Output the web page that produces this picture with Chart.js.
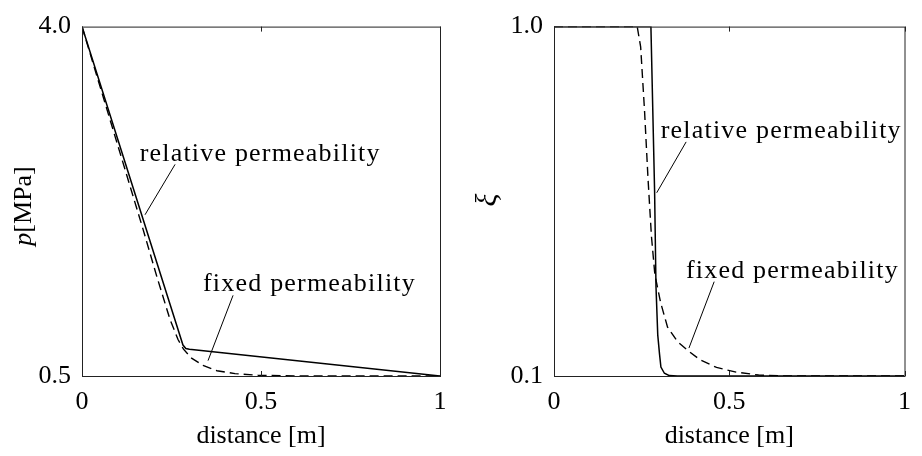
<!DOCTYPE html>
<html><head><meta charset="utf-8">
<script src="https://cdn.jsdelivr.net/npm/chart.js@4.4.0/dist/chart.umd.min.js"></script>
<style>
html,body{margin:0;padding:0;background:#fff;}
#wrap{position:relative;width:922px;height:456px;overflow:hidden;}
canvas{position:absolute;top:0;}
#c1{left:0;} #c2{left:461px;}
</style></head><body>
<div id="wrap"><canvas id="c1" width="461" height="456"></canvas><canvas id="c2" width="461" height="456"></canvas></div>
<script>
// ---- data ----
const xTickValues = [0, 0.5, 1];
const pTickValues = [0.5, 4.0];
const xiTickValues = [0.1, 1.0];

// left panel: pressure p [MPa] vs distance [m]
const pRelDist = [0, 0.282, 0.29, 0.30, 1.0];
const pRelVal  = [4.0, 0.81, 0.775, 0.768, 0.5];
const pFixDist = [0, 0.1704, 0.2095, 0.2458, 0.2682, 0.2835, 0.3045, 0.338, 0.3771, 0.4274, 0.4916, 0.609, 1.0];
const pFixVal  = [4.0, 1.971, 1.490, 1.067, 0.865, 0.769, 0.683, 0.606, 0.553, 0.524, 0.508, 0.5, 0.5];

// right panel: xi vs distance [m]
const xiRelDist = [0, 0.2765, 0.287, 0.291, 0.296, 0.301, 0.305, 0.315, 0.329, 0.352, 1.0];
const xiRelVal  = [1.0, 1.0, 0.577, 0.330, 0.206, 0.157, 0.123, 0.107, 0.101, 0.1, 0.1];
const xiFixDist = [0, 0.2374, 0.2472, 0.2584, 0.2682, 0.2779, 0.2877, 0.3045, 0.324, 0.352, 0.3799, 0.4162, 0.4637, 0.5196, 0.5838, 0.659, 1.0];
const xiFixVal  = [1.0, 1.0, 0.948, 0.782, 0.609, 0.461, 0.362, 0.288, 0.226, 0.189, 0.167, 0.142, 0.122, 0.110, 0.1025, 0.1, 0.1];

const seriesNames = ['relative permeability', 'fixed permeability'];
const xTitle = 'distance [m]';

// ---- layout / style ----
const FONT = '"Liberation Serif", "Times New Roman", serif';
const FS = 26;
const toPts = (xs, ys) => xs.map((x, i) => ({x: x, y: ys[i]}));

const framePlugin = {
  id: 'frame',
  afterDatasetsDraw(chart) {
    const {ctx, chartArea: a, scales} = chart;
    ctx.save();
    ctx.strokeStyle = '#222';
    ctx.lineWidth = 1;
    ctx.strokeRect(a.left + 0.5, a.top + 0.5, a.right - a.left, a.bottom - a.top);
    xTickValues.forEach(v => {
      const px = Math.round(scales.x.getPixelForValue(v)) + 0.5;
      ctx.beginPath();
      ctx.moveTo(px, a.bottom); ctx.lineTo(px, a.bottom - 5);
      ctx.moveTo(px, a.top); ctx.lineTo(px, a.top + 5);
      ctx.stroke();
    });
    ctx.restore();
  }
};

const notesPlugin = {
  id: 'notes',
  afterDatasetsDraw(chart, args, opts) {
    const {ctx, scales} = chart;
    const X = v => scales.x.getPixelForValue(v), Y = v => scales.y.getPixelForValue(v);
    ctx.save();
    ctx.fillStyle = '#000';
    ctx.strokeStyle = '#000';
    ctx.lineWidth = 1;
    ctx.font = FS + 'px ' + FONT;
    ctx.textBaseline = 'alphabetic';
    ctx.textAlign = 'left';
    try { ctx.letterSpacing = '1.2px'; } catch (e) {}
    (opts.items || []).forEach(n => {
      ctx.fillText(n.text, X(n.tx), Y(n.ty));
      ctx.beginPath();
      ctx.moveTo(X(n.l[0]), Y(n.l[1]));
      ctx.lineTo(X(n.l[2]), Y(n.l[3]));
      ctx.stroke();
    });
    try { ctx.letterSpacing = '0px'; } catch (e) {}
    // y title (rotated)
    const t = opts.ytitle;
    if (t) {
      ctx.translate(t.x, t.y);
      ctx.rotate(-Math.PI / 2);
      ctx.textBaseline = 'middle';
      let total = 0;
      const widths = t.parts.map(p => {
        ctx.font = (p.italic ? 'italic ' : '') + (p.size || FS) + 'px ' + FONT;
        const w = ctx.measureText(p.s).width; total += w; return w;
      });
      let cx = -total / 2;
      t.parts.forEach((p, i) => {
        ctx.font = (p.italic ? 'italic ' : '') + (p.size || FS) + 'px ' + FONT;
        ctx.fillText(p.s, cx, 0);
        cx += widths[i];
      });
    }
    ctx.restore();
  }
};

function makeChart(id, cfg) {
  return new Chart(document.getElementById(id), {
    type: 'line',
    data: {
      datasets: [
        {label: seriesNames[0], data: cfg.rel, borderColor: '#000', borderWidth: 1.5, pointRadius: 0, tension: 0, fill: false},
        {label: seriesNames[1], data: cfg.fix, borderColor: '#000', borderWidth: 1.4, borderDash: [9, 5], pointRadius: 0, tension: 0, fill: false}
      ]
    },
    options: {
      responsive: false,
      animation: false,
      devicePixelRatio: 1,
      layout: {padding: {top: 12, right: cfg.rightPad, bottom: 0, left: 0}},
      plugins: {legend: {display: false}, tooltip: {enabled: false},
        notes: {items: cfg.notes, ytitle: cfg.ytitle}},
      scales: {
        x: {
          type: 'linear', min: 0, max: 1,
          afterBuildTicks: s => { s.ticks = xTickValues.map(v => ({value: v})); },
          afterFit: s => { s.height = 80; },
          ticks: {callback: v => String(v), color: '#000', font: {family: FONT, size: FS}, padding: 11, maxRotation: 0, autoSkip: false},
          grid: {display: false, drawTicks: false},
          border: {display: false},
          title: {display: true, text: xTitle, color: '#000', font: {family: FONT, size: FS}, padding: {top: 0, bottom: 4}}
        },
        y: {
          type: 'linear', min: cfg.yMin, max: cfg.yMax,
          afterBuildTicks: s => { s.ticks = cfg.yTicks.map(v => ({value: v})); },
          afterFit: s => { s.width = cfg.yWidth; },
          ticks: {callback: v => Number(v).toFixed(1), color: '#000', font: {family: FONT, size: FS}, padding: 11, autoSkip: false},
          grid: {display: false, drawTicks: false},
          border: {display: false}
        }
      }
    },
    plugins: [framePlugin, notesPlugin]
  });
}

makeChart('c1', {
  rel: toPts(pRelDist, pRelVal), fix: toPts(pFixDist, pFixVal),
  yMin: 0.5, yMax: 4.0, yTicks: pTickValues, yWidth: 82, rightPad: 21,
  notes: [
    {text: seriesNames[0], tx: 0.161, ty: 2.654, l: [0.260, 2.62, 0.176, 2.115]},
    {text: seriesNames[1], tx: 0.338, ty: 1.353, l: [0.422, 1.308, 0.352, 0.654]}
  ],
  ytitle: {x: 24, y: 206, parts: [{s: 'p', italic: true}, {s: '[MPa]', italic: false}]}
});

makeChart('c2', {
  rel: toPts(xiRelDist, xiRelVal), fix: toPts(xiFixDist, xiFixVal),
  yMin: 0.1, yMax: 1.0, yTicks: xiTickValues, yWidth: 93, rightPad: 10,
  notes: [
    {text: seriesNames[0], tx: 0.3045, ty: 0.7125, l: [0.377, 0.703, 0.293, 0.572]},
    {text: seriesNames[1], tx: 0.3765, ty: 0.352, l: [0.457, 0.343, 0.385, 0.172]}
  ],
  ytitle: {x: 27, y: 200, parts: [{s: 'ξ', italic: true, size: 30}]}
});
</script>
</body></html>
